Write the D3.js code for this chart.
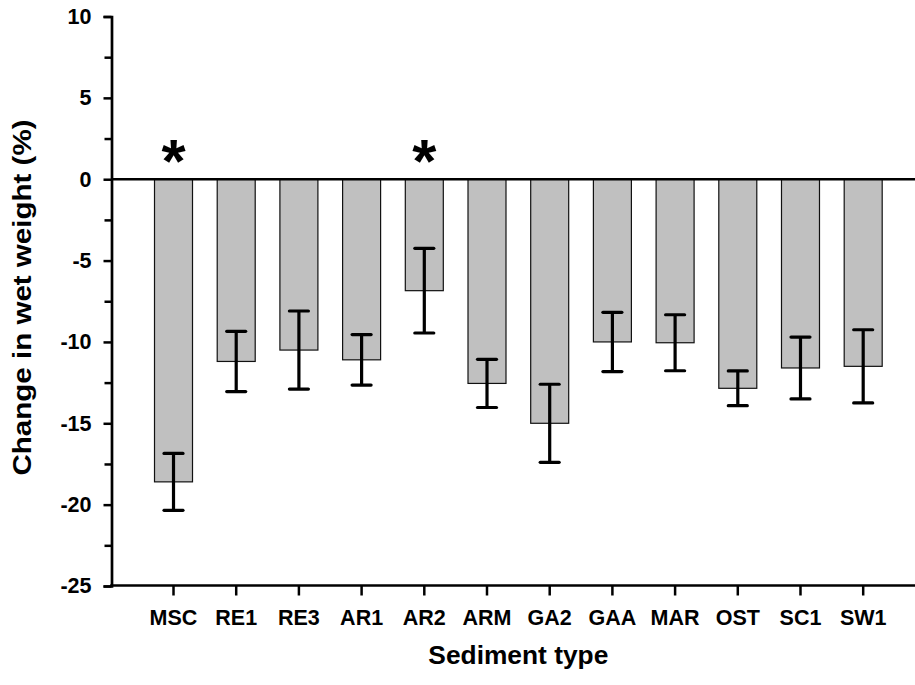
<!DOCTYPE html>
<html>
<head>
<meta charset="utf-8">
<script src="https://cdn.jsdelivr.net/npm/d3@7"></script>
<style>
  html, body { margin: 0; padding: 0; background: #fff; }
  svg { display: block; }
  text { font-family: "Liberation Sans", Arial, Helvetica, sans-serif; font-weight: bold; fill: #000; }
</style>
</head>
<body>
<svg id="chart" width="915" height="685"></svg>
<script>
// Sediment types along the x axis
const categories = ["MSC", "RE1", "RE3", "AR1", "AR2", "ARM", "GA2", "GAA", "MAR", "OST", "SC1", "SW1"];
// Mean change in wet weight (%) per sediment type
const means = [-18.6, -11.2, -10.5, -11.1, -6.85, -12.55, -15.0, -10.0, -10.05, -12.85, -11.6, -11.5];
// Standard error for each mean
const errors = [1.75, 1.85, 2.4, 1.55, 2.6, 1.48, 2.4, 1.82, 1.72, 1.07, 1.9, 2.25];
// Sediment types marked as significant
const significant = ["MSC", "AR2"];
// Y axis tick values (labelled majors and unlabelled minors)
const majorTicks = [-25, -20, -15, -10, -5, 0, 5, 10];
const minorTicks = [-22.5, -17.5, -12.5, -7.5, -2.5, 2.5, 7.5];

const data = categories.map((c, i) => ({ cat: c, mean: means[i], err: errors[i] }));

const svg = d3.select("#chart");
const W = 915;
const axisX = 111.5;
const axisY = 585.5;

const y = d3.scaleLinear().domain([-25, 10]).range([586, 16.5]);
const x = d3.scaleBand().domain(categories)
  .range([axisX, 925.2])
  .paddingInner(0.394)
  .paddingOuter(0.686);

// Bars hang down from zero
svg.append("g").selectAll("rect").data(data).join("rect")
  .attr("x", d => x(d.cat))
  .attr("width", x.bandwidth())
  .attr("y", d => y(Math.max(0, d.mean)))
  .attr("height", d => Math.abs(y(d.mean) - y(0)))
  .attr("fill", "#c0c0c0")
  .attr("stroke", "#111")
  .attr("stroke-width", 1.2);

// Error bars with caps
const eb = svg.append("g").attr("stroke", "#000").attr("stroke-width", 3.2).attr("fill", "none");
const capHalf = 9.5;
data.forEach(d => {
  const cx = x(d.cat) + x.bandwidth() / 2;
  eb.append("line").attr("x1", cx).attr("x2", cx).attr("y1", y(d.mean + d.err)).attr("y2", y(d.mean - d.err));
  eb.append("line").attr("x1", cx - capHalf).attr("x2", cx + capHalf).attr("y1", y(d.mean + d.err)).attr("y2", y(d.mean + d.err)).attr("stroke-linecap", "round");
  eb.append("line").attr("x1", cx - capHalf).attr("x2", cx + capHalf).attr("y1", y(d.mean - d.err)).attr("y2", y(d.mean - d.err)).attr("stroke-linecap", "round");
});

// Zero reference line
svg.append("line")
  .attr("x1", axisX).attr("x2", W)
  .attr("y1", y(0)).attr("y2", y(0))
  .attr("stroke", "#000").attr("stroke-width", 2.5);

// Y axis: labelled majors (plain hyphen for negatives)
const yAxis = d3.axisLeft(y).tickValues(majorTicks).tickSize(8).tickPadding(12).tickFormat(d => String(d));
const gy = svg.append("g").attr("transform", `translate(${axisX},0)`).call(yAxis);
gy.select(".domain").attr("stroke", "#000").attr("stroke-width", 2.7);
gy.selectAll(".tick line").attr("stroke", "#000").attr("stroke-width", 2.5);
gy.selectAll(".tick text").attr("font-size", 21.5).attr("font-family", null);

// Y axis: unlabelled minors
const gyMinor = svg.append("g").attr("transform", `translate(${axisX},0)`)
  .call(d3.axisLeft(y).tickValues(minorTicks).tickSize(7).tickFormat(""));
gyMinor.select(".domain").remove();
gyMinor.selectAll(".tick line").attr("stroke", "#000").attr("stroke-width", 2.5);

// X axis line across the bottom, ticks at category centres
const xAxis = d3.axisBottom(x).tickSize(10).tickPadding(14).tickSizeOuter(0);
const gx = svg.append("g").attr("transform", `translate(0,${axisY})`).call(xAxis);
gx.select(".domain").remove();
gx.append("line").attr("x1", axisX - 1.3).attr("x2", W).attr("y1", 0).attr("y2", 0)
  .attr("stroke", "#000").attr("stroke-width", 2.7);
gx.selectAll(".tick line").attr("stroke", "#000").attr("stroke-width", 2.5);
gx.selectAll(".tick text").attr("font-size", 21.5).attr("font-family", null);

// Significance markers
svg.append("g").selectAll("text").data(data.filter(d => significant.includes(d.cat))).join("text")
  .attr("x", d => x(d.cat) + x.bandwidth() / 2)
  .attr("y", y(0) + 3)
  .attr("text-anchor", "middle")
  .attr("font-size", 62)
  .text("*");

// Axis titles
svg.append("text")
  .attr("x", x("MSC") + (x("SW1") + x.bandwidth() - x("MSC")) / 2)
  .attr("y", 664)
  .attr("text-anchor", "middle")
  .attr("font-size", 26)
  .attr("textLength", 180)
  .attr("lengthAdjust", "spacingAndGlyphs")
  .text("Sediment type");

svg.append("text")
  .attr("transform", `translate(31,${297.5}) rotate(-90)`)
  .attr("text-anchor", "middle")
  .attr("font-size", 26)
  .attr("textLength", 356)
  .attr("lengthAdjust", "spacingAndGlyphs")
  .text("Change in wet weight (%)");
</script>
</body>
</html>
